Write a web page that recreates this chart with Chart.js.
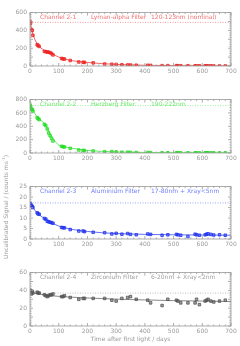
<!DOCTYPE html>
<html>
<head>
<meta charset="utf-8">
<script src="https://cdn.jsdelivr.net/npm/chart.js@4"></script>
<style>
  body { margin: 0; background: #fff; }
  #wrap { position: relative; width: 240px; height: 346px; overflow: hidden; }
  canvas { position: absolute; left: 0; }
  #ytitle {
    position: absolute; left: 5px; top: 207px;
    transform: translate(-50%, -50%) rotate(-90deg);
    font: 6px "DejaVu Sans", sans-serif; color: #999; white-space: nowrap;
  }
</style>
</head>
<body>
<div id="wrap">
  <canvas id="c1"></canvas>
  <canvas id="c2"></canvas>
  <canvas id="c3"></canvas>
  <canvas id="c4"></canvas>
  <div id="ytitle">Uncalibrated Signal / (counts ms<sup style="font-size:4px">-1</sup>)</div>
</div>
<script>
// Sample days (shared by all four channels)
const days = [0, 2, 5, 8, 10, 25, 28, 32, 50, 55, 60, 65, 70, 75, 80, 110, 115, 120, 140, 170,
    185, 190, 220, 260, 285, 300, 320, 340, 350, 370, 410, 420, 460, 480, 510, 515, 525, 550,
    575, 580, 590, 610, 615, 620, 630, 640, 660, 680];

// Measured signal per channel
const lyman = [500, 480, 410, 400, 345, 240, 230, 220, 165, 160, 158, 155, 150, 140, 125, 85, 80, 78, 62, 45,
    42, 40, 35, 22, 20, 18, 14, 12, 11, 9, 8, 7, 4, 4, 4, 3, 3, 3,
    2, 2, 2, 3, 2, 2, 2, 1, 1, 1];
const herzberg = [720, 700, 660, 650, 630, 530, 515, 500, 430, 410, 360, 300, 260, 220, 180, 100, 95, 90, 70, 45,
    40, 35, 30, 20, 22, 16, 12, 12, 10, 8, 8, 6, 4, 4, 5, 4, 3, 3,
    3, 3, 2, 4, 3, 3, 2, 2, 2, 2];
const aluminium = [17, 16.5, 16, 15.5, 15, 12.5, 12, 11.8, 9.8, 9.5, 8.5, 8.2, 8, 7.8, 7.5, 5.5, 5.4, 5.3, 4.5, 3.8,
    3.8, 3.5, 3.2, 3, 2.4, 2.7, 2.3, 2.6, 2.2, 2, 2.4, 2.2, 1.8, 2, 2.2, 2, 1.8, 1.2,
    2.3, 2, 1.8, 2, 2.3, 2.5, 2.2, 1.9, 2, 1.8];
const zirconium = [38, 40, 36, 39, 37, 38, 37, 37, 35, 34, 33, 34, 35, 35, 36, 33, 33, 34, 32, 30,
    31, 31, 31, 31, 29, 28, 31, 32, 33, 30, 29, 26, 23, 30, 29, 28, 26, 26,
    26, 30, 24, 28, 29, 30, 28, 27, 28, 29];

// Fitted trend curves
const fitDays = [0, 10, 25, 50, 75, 100, 125, 150, 200, 250, 300, 350, 400, 500, 600, 700];
const lymanFit = [500, 360, 250, 175, 140, 100, 75, 58, 40, 27, 18, 12, 8, 4, 2, 1];
const herzbergFit = [720, 640, 540, 440, 250, 120, 88, 68, 38, 25, 16, 11, 8, 4, 3, 2];
const aluminiumFit = [16.8, 15, 12.5, 9.8, 7.8, 6.2, 5.2, 4.5, 3.6, 3.0, 2.6, 2.4, 2.2, 2.0, 1.9, 1.8];
const zirconiumFit = [38, 37.2, 36.3, 35, 34, 33.3, 32.8, 32.3, 31.5, 30.8, 30.2, 29.7, 29.3, 28.5, 28, 27.5];

// Dotted reference levels
const refLevels = [490, 710, 17.2, 37];

const titles = [
    ['Channel 2-1', 'Lyman-alpha Filter', '120-123nm (nominal)'],
    ['Channel 2-2', 'Herzberg Filter', '190-222nm'],
    ['Channel 2-3', 'Aluminium Filter', '17-80nm + Xray<5nm'],
    ['Channel 2-4', 'Zirconium Filter', '6-20nm + Xray<2nm']
];
const yMax = [600, 800, 25, 60];
const yStep = [100, 200, 5, 10];
const xTicks = [0, 100, 200, 300, 400, 500, 600, 700];

const panels = [
    { id: 'c1', top: 10, bottom: 66, color: '#ee2222', text: '#f07070', data: lyman, fit: lymanFit },
    { id: 'c2', top: 97, bottom: 153, color: '#22dd22', text: '#70e870', data: herzberg, fit: herzbergFit },
    { id: 'c3', top: 184, bottom: 239, color: '#2233ee', text: '#7080f8', data: aluminium, fit: aluminiumFit },
    { id: 'c4', top: 270, bottom: 326, color: '#555555', text: '#a0a0a0', data: zirconium, fit: zirconiumFit }
];

const axisGrey = '#999999';
const font = { family: 'DejaVu Sans', size: 6 };

// box, inward ticks and the in-panel caption
const boxPlugin = {
    id: 'box',
    afterDraw(chart, args, opts) {
        const ctx = chart.ctx;
        const a = chart.chartArea;
        const xs = chart.scales.x, ys = chart.scales.y;
        ctx.save();
        ctx.strokeStyle = axisGrey;
        ctx.lineWidth = 0.8;
        ctx.strokeRect(a.left, a.top, a.right - a.left, a.bottom - a.top);
        ctx.beginPath();
        for (let v = 0; v <= 700; v += 20) {
            const px = xs.getPixelForValue(v);
            const len = v % 100 === 0 ? 3 : 1.5;
            ctx.moveTo(px, a.bottom); ctx.lineTo(px, a.bottom - len);
            ctx.moveTo(px, a.top); ctx.lineTo(px, a.top + len);
        }
        const step = opts.step / 5;
        for (let v = 0; v <= opts.max + 1e-9; v += step) {
            const py = ys.getPixelForValue(v);
            const major = Math.abs(v / opts.step - Math.round(v / opts.step)) < 1e-6;
            const len = major ? 3 : 1.5;
            ctx.moveTo(a.left, py); ctx.lineTo(a.left + len, py);
            ctx.moveTo(a.right, py); ctx.lineTo(a.right - len, py);
        }
        ctx.stroke();
        ctx.fillStyle = opts.color;
        ctx.font = '6px "DejaVu Sans"';
        ctx.textBaseline = 'middle';
        ctx.fillText(opts.title[0], a.left + 10, a.top + 5);
        ctx.fillText(opts.title[1], a.left + 61, a.top + 5);
        ctx.fillText(opts.title[2], a.left + 121, a.top + 5);
        ctx.restore();
    }
};

panels.forEach((p, i) => {
    const last = i === panels.length - 1;
    const padTop = 4;
    const xHeight = last ? 17 : 10;
    const canvas = document.getElementById(p.id);
    const h = p.bottom - p.top + padTop + xHeight;
    canvas.style.top = (p.top - padTop) + 'px';
    canvas.style.width = '240px';
    canvas.style.height = h + 'px';
    canvas.width = 240;
    canvas.height = h;

    new Chart(canvas, {
        type: 'scatter',
        data: {
            datasets: [{
                data: days.map((d, k) => ({ x: d, y: p.data[k] })),
                pointStyle: 'rect',
                pointRadius: 1.8,
                borderWidth: 0.8,
                borderColor: p.color,
                backgroundColor: p.color + '88'
            }, {
                type: 'line',
                data: fitDays.map((d, k) => ({ x: d, y: p.fit[k] })),
                borderColor: p.color,
                borderWidth: 0.7,
                pointRadius: 0,
                cubicInterpolationMode: 'monotone'
            }, {
                type: 'line',
                data: [{ x: 0, y: refLevels[i] }, { x: 700, y: refLevels[i] }],
                borderColor: p.text,
                borderWidth: 0.7,
                borderDash: [1, 1.5],
                pointRadius: 0
            }]
        },
        options: {
            responsive: false,
            animation: false,
            layout: { padding: { top: padTop, right: 9, left: 0, bottom: 0 } },
            plugins: {
                legend: { display: false },
                tooltip: { enabled: false },
                box: { color: p.text, title: titles[i], max: yMax[i], step: yStep[i] }
            },
            scales: {
                x: {
                    type: 'linear', min: 0, max: 700,
                    afterBuildTicks: s => { s.ticks = xTicks.map(v => ({ value: v })); },
                    afterFit: s => { s.height = xHeight; },
                    grid: { display: false, drawTicks: false },
                    border: { display: false },
                    ticks: { color: axisGrey, font: font, padding: 2, maxRotation: 0 },
                    title: {
                        display: last,
                        text: 'Time after first light / days',
                        color: axisGrey, font: font, padding: 0
                    }
                },
                y: {
                    min: 0, max: yMax[i],
                    ticks: { stepSize: yStep[i], color: axisGrey, font: font, padding: 3 },
                    afterFit: s => { s.width = 30; },
                    grid: { display: false, drawTicks: false },
                    border: { display: false }
                }
            }
        },
        plugins: [boxPlugin]
    });
});
</script>
</body>
</html>
